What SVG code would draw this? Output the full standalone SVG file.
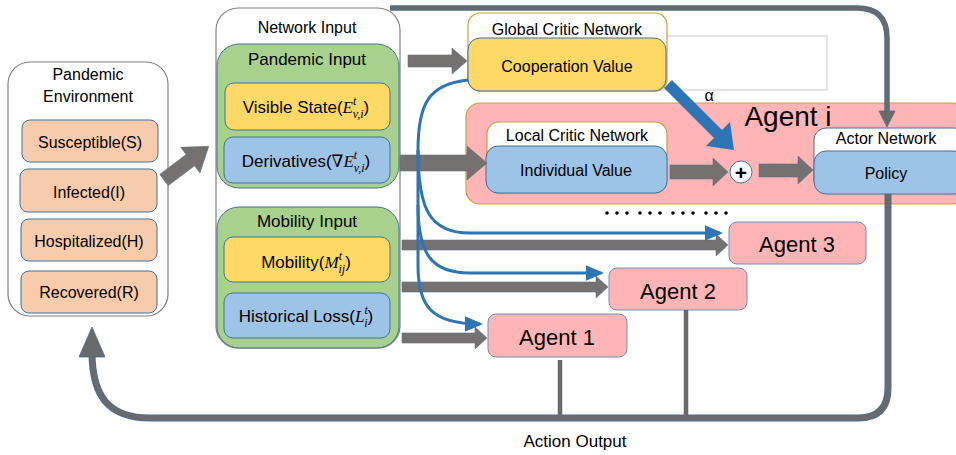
<svg xmlns="http://www.w3.org/2000/svg" width="956" height="455" viewBox="0 0 956 455">
<defs>
<style>
text{font-family:"Liberation Sans","Noto Sans",Arial,sans-serif;fill:#000;text-anchor:middle}
.outer{fill:#fff;stroke:#808080;stroke-width:1.2}
.peach{fill:#F8CBAD;stroke:#41719C;stroke-width:1}
.green{fill:#A9D18E;stroke:#41719C;stroke-width:1}
.yellow{fill:#FFD966;stroke:#41719C;stroke-width:1}
.blue{fill:#9DC3E6;stroke:#41719C;stroke-width:1}
.pink{fill:#FFB5B5;stroke:#6F8FB6;stroke-width:1}
.gold{fill:#fff;stroke:#C9A03C;stroke-width:1.2}
.garrow{fill:#757171;stroke:#5E6F85;stroke-width:0.6}
.bl{fill:none;stroke:#2E75B6;stroke-width:3}
.m{font-family:"Liberation Serif","DejaVu Serif",serif;font-style:italic}
.t16{font-size:16px}
.t17{font-size:17px}
</style>
<marker id="bh" markerWidth="6" markerHeight="6" refX="5" refY="3" orient="auto" markerUnits="strokeWidth">
<path d="M0,0.4 L6,3 L0,5.6 Z" fill="#2E75B6"/>
</marker>
</defs>

<g id="pandemic-environment">
<rect x="8" y="62" width="160" height="254" rx="22" class="outer"/>
<text x="88" y="80" class="t16">Pandemic</text>
<text x="88" y="102" class="t16">Environment</text>
<rect x="22" y="120" width="136" height="42" rx="8" class="peach"/>
<text x="90" y="148" class="t16">Susceptible(S)</text>
<rect x="20" y="169" width="137" height="43" rx="8" class="peach"/>
<text x="89" y="198" class="t16">Infected(I)</text>
<rect x="21" y="219" width="136" height="42" rx="8" class="peach"/>
<text x="89" y="247" class="t16">Hospitalized(H)</text>
<rect x="21" y="271" width="136" height="42" rx="8" class="peach"/>
<text x="89" y="298" class="t16">Recovered(R)</text>
</g>

<g id="network-input">
<rect x="216" y="8" width="184" height="340" rx="22" class="outer"/>
<text x="307" y="33" class="t16">Network Input</text>
</g>

<g id="pandemic-input">
<rect x="217" y="44" width="182" height="144" rx="22" class="green"/>
<text x="307" y="65" class="t17">Pandemic Input</text>
<rect x="225" y="83" width="165" height="47" rx="9" class="yellow"/>
<text x="306" y="113" class="t17">Visible State(<tspan class="m">E</tspan><tspan class="m" font-size="12" dy="-8">t</tspan><tspan class="m" font-size="12" dx="-3.5" dy="13">v,i</tspan><tspan dy="-5">)</tspan></text>
<rect x="224" y="137" width="166" height="46" rx="9" class="blue"/>
<text x="306" y="167" class="t17">Derivatives(<tspan class="m">∇E</tspan><tspan class="m" font-size="12" dy="-8">t</tspan><tspan class="m" font-size="12" dx="-3.5" dy="13">v,i</tspan><tspan dy="-5">)</tspan></text>
</g>

<g id="mobility-input">
<rect x="217" y="207" width="182" height="141" rx="22" class="green"/>
<text x="307" y="227" class="t17">Mobility Input</text>
<rect x="224" y="237" width="166" height="45" rx="9" class="yellow"/>
<text x="306" y="268" class="t17">Mobility(<tspan class="m">M</tspan><tspan class="m" font-size="12" dy="-8">t</tspan><tspan class="m" font-size="12" dx="-3.5" dy="13">ij</tspan><tspan dy="-5">)</tspan></text>
<rect x="224" y="293" width="166" height="45" rx="9" class="blue"/>
<text x="306" y="322" class="t17">Historical Loss(<tspan class="m">L</tspan><tspan class="m" font-size="12" dy="-8">t</tspan><tspan class="m" font-size="12" dx="-3.5" dy="13">i</tspan><tspan dy="-5">)</tspan></text>
</g>

<g id="global-critic">
<rect x="640" y="36" width="187" height="54" fill="#fff" stroke="#C8C8C8" stroke-width="1"/>
<rect x="468" y="13" width="199" height="78" rx="12" class="gold"/>
<text x="567" y="35" class="t16">Global Critic Network</text>
<rect x="468" y="38" width="198" height="53" rx="12" class="yellow"/>
<text x="567" y="72" class="t16">Cooperation Value</text>
<text x="709" y="101" font-size="16" font-family="Liberation Serif,serif">α</text>
</g>

<g id="agent-i">
<rect x="466" y="103" width="500" height="101" rx="14" fill="#FFB5B5" stroke="#C9A03C" stroke-width="1.2"/>
<text x="788" y="126" font-size="28">Agent i</text>
</g>

<g id="local-critic">
<rect x="487" y="122" width="180" height="71" rx="12" class="gold"/>
<text x="577" y="141" class="t16">Local Critic Network</text>
<rect x="486" y="146" width="181" height="47" rx="12" class="blue"/>
<text x="576" y="176" class="t16">Individual Value</text>
</g>

<g id="sum">
<circle cx="741" cy="172" r="11" fill="#fff" stroke="#41719C" stroke-width="1"/>
<text x="741" y="179.5" font-size="21" font-weight="bold">+</text>
</g>

<g id="actor-network">
<rect x="814" y="128" width="152" height="65" rx="12" fill="#fff" stroke="#41719C" stroke-width="1"/>
<text x="886" y="144" class="t16">Actor Network</text>
<rect x="814" y="151" width="152" height="43" rx="12" class="blue"/>
<text x="886" y="179" class="t16">Policy</text>
</g>

<g id="ellipsis">
<g fill="#000">
<circle cx="607" cy="213" r="1.8"/><circle cx="617" cy="213" r="1.8"/><circle cx="627" cy="213" r="1.8"/>
<circle cx="640" cy="213" r="1.8"/><circle cx="650" cy="213" r="1.8"/><circle cx="660" cy="213" r="1.8"/>
<circle cx="673" cy="213" r="1.8"/><circle cx="683" cy="213" r="1.8"/><circle cx="693" cy="213" r="1.8"/>
<circle cx="706" cy="213" r="1.8"/><circle cx="716" cy="213" r="1.8"/><circle cx="726" cy="213" r="1.8"/>
</g>
</g>

<g id="agent-3">
<rect x="729" y="222" width="137" height="42" rx="8" class="pink"/>
<text x="797" y="252" font-size="22">Agent 3</text>
</g>
<g id="agent-2">
<rect x="609" y="268" width="138" height="42" rx="8" class="pink"/>
<text x="678" y="299" font-size="22">Agent 2</text>
</g>
<g id="agent-1">
<rect x="488" y="314" width="139" height="43" rx="8" class="pink"/>
<text x="557" y="345" font-size="22">Agent 1</text>
</g>

<g id="action-output">
<text x="575" y="447" class="t17">Action Output</text>
</g>

<g id="connectors">
<!-- top feedback loop -->
<path d="M390,8 L857,8 Q887,8 887,38 L887,112" fill="none" stroke="#4C6E93" stroke-width="5.5"/>
<path d="M390,8 L857,8 Q887,8 887,38 L887,112" fill="none" stroke="#6A6A6A" stroke-width="3.5"/>
<polygon points="879,111 895,111 887,127" fill="#6A6A6A" stroke="#4C6E93" stroke-width="0.8"/>
<!-- bottom action output loop -->
<path d="M92,352 C92,398 110,418 150,418 L858,418 Q888,418 888,388 L888,194" fill="none" stroke="#4C6E93" stroke-width="7"/>
<path d="M92,352 C92,398 110,418 150,418 L858,418 Q888,418 888,388 L888,194" fill="none" stroke="#6A6A6A" stroke-width="5"/>
<polygon points="79,357 105,357 92,327" fill="#6A6A6A" stroke="#4C6E93" stroke-width="0.8"/>
<line x1="560" y1="360" x2="560" y2="418" stroke="#6A6A6A" stroke-width="4.5"/>
<line x1="686" y1="310" x2="686" y2="418" stroke="#6A6A6A" stroke-width="4.5"/>
<!-- diagonal input arrow -->
<polygon points="0,-7 33,-7 33,-16 56,0 33,16 33,7 0,7" class="garrow" transform="translate(164,180) rotate(-37)"/>
<!-- grey block arrows -->
<polygon points="408,55 452,55 452,48 467,61 452,74 452,67 408,67" class="garrow"/>
<polygon points="400,155 467,155 467,146 487,163 467,180 467,171 400,171" class="garrow"/>
<polygon points="670,165 713,165 713,158 728,172 713,186 713,179 670,179" class="garrow"/>
<polygon points="759,164 798,164 798,156 813,170 798,184 798,177 759,177" class="garrow"/>
<polygon points="402,240 716,240 716,234 728,245 716,256 716,250 402,250" class="garrow"/>
<polygon points="402,282 596,282 596,276 608,287 596,298 596,292 402,292" class="garrow"/>
<polygon points="402,333 475,333 475,327 487,338 475,349 475,343 402,343" class="garrow"/>
<!-- blue alpha arrow -->
<polygon points="664,88 672,80 722,130 730,122 734,150 706,146 714,138" fill="#2E75B6"/>
<!-- blue cooperation value links -->
<path class="bl" d="M468,80 C428,84 418,105 418,150 L418,265 C418,305 430,324 480,324" marker-end="url(#bh)"/>
<path class="bl" d="M418,150 C418,210 430,233 470,233 L720,233" marker-end="url(#bh)"/>
<path class="bl" d="M418,205 C418,255 432,273 470,273 L601,273" marker-end="url(#bh)"/>
</g>
</svg>
